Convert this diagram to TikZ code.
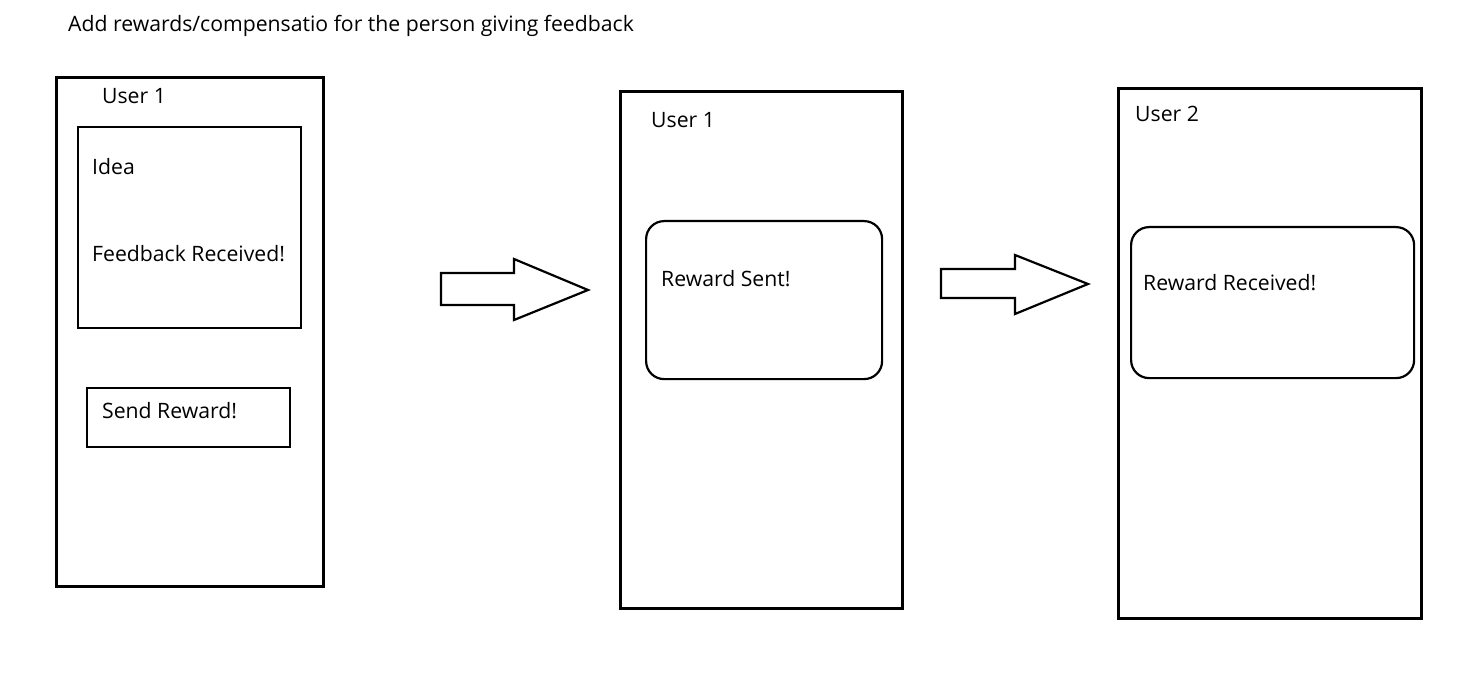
\documentclass[tikz,border=0pt]{standalone}
\usepackage{fontspec}
\setmainfont{Open Sans}
\begin{document}
\begin{tikzpicture}[x=1pt,y=-1pt,
  frame/.style={draw,line width=2.6pt,inner sep=0pt,anchor=north west},
  card/.style={draw,line width=2.2pt,rounded corners=18pt,inner sep=0pt,anchor=north west},
  lbl/.style={anchor=west,inner sep=0pt,font=\fontsize{21.2}{24}\selectfont},
  barrow/.style={draw,line width=2.2pt,line join=miter,fill=white}]
\useasboundingbox[fill=white] (0,0) rectangle (1480,676);
\node[lbl] (title) at (68,26) {Add rewards/compensatio for the person giving feedback};
% screen 1
\node[frame,minimum width=267pt,minimum height=509pt] (s1) at (55,76) {};
\node[lbl] (u1) at (102,96) {User 1};
\node[frame,line width=2.4pt,minimum width=223pt,minimum height=201pt] (idea) at (77,126) {};
\node[lbl] (ideat) at (92,167) {Idea};
\node[lbl] (fb) at (92,254) {Feedback Received!};
\node[frame,line width=2.4pt,minimum width=203pt,minimum height=59pt] (send) at (86,387) {};
\node[lbl] (sendt) at (102,411) {Send Reward!};
% screen 2
\node[frame,minimum width=282pt,minimum height=517pt] (s2) at (619,90) {};
\node[lbl] (u1b) at (651,120) {User 1};
\node[card,minimum width=236pt,minimum height=158pt] (sent) at (645,220) {};
\node[lbl] (sentt) at (661,279) {Reward Sent!};
% screen 3
\node[frame,minimum width=303pt,minimum height=530pt] (s3) at (1117,87) {};
\node[lbl] (u2) at (1135,114) {User 2};
\node[card,minimum width=283pt,minimum height=151pt] (recv) at (1130,226) {};
\node[lbl] (recvt) at (1143,283) {Reward Received!};
% block arrows
\draw[barrow] (441,273) -- (514,273) -- (514,259) -- (588,290) -- (514,320) -- (514,305) -- (441,305) -- cycle;
\draw[barrow] (941,269) -- (1015,269) -- (1015,255) -- (1088,284) -- (1015,314) -- (1015,298) -- (941,298) -- cycle;
\end{tikzpicture}
\end{document}
